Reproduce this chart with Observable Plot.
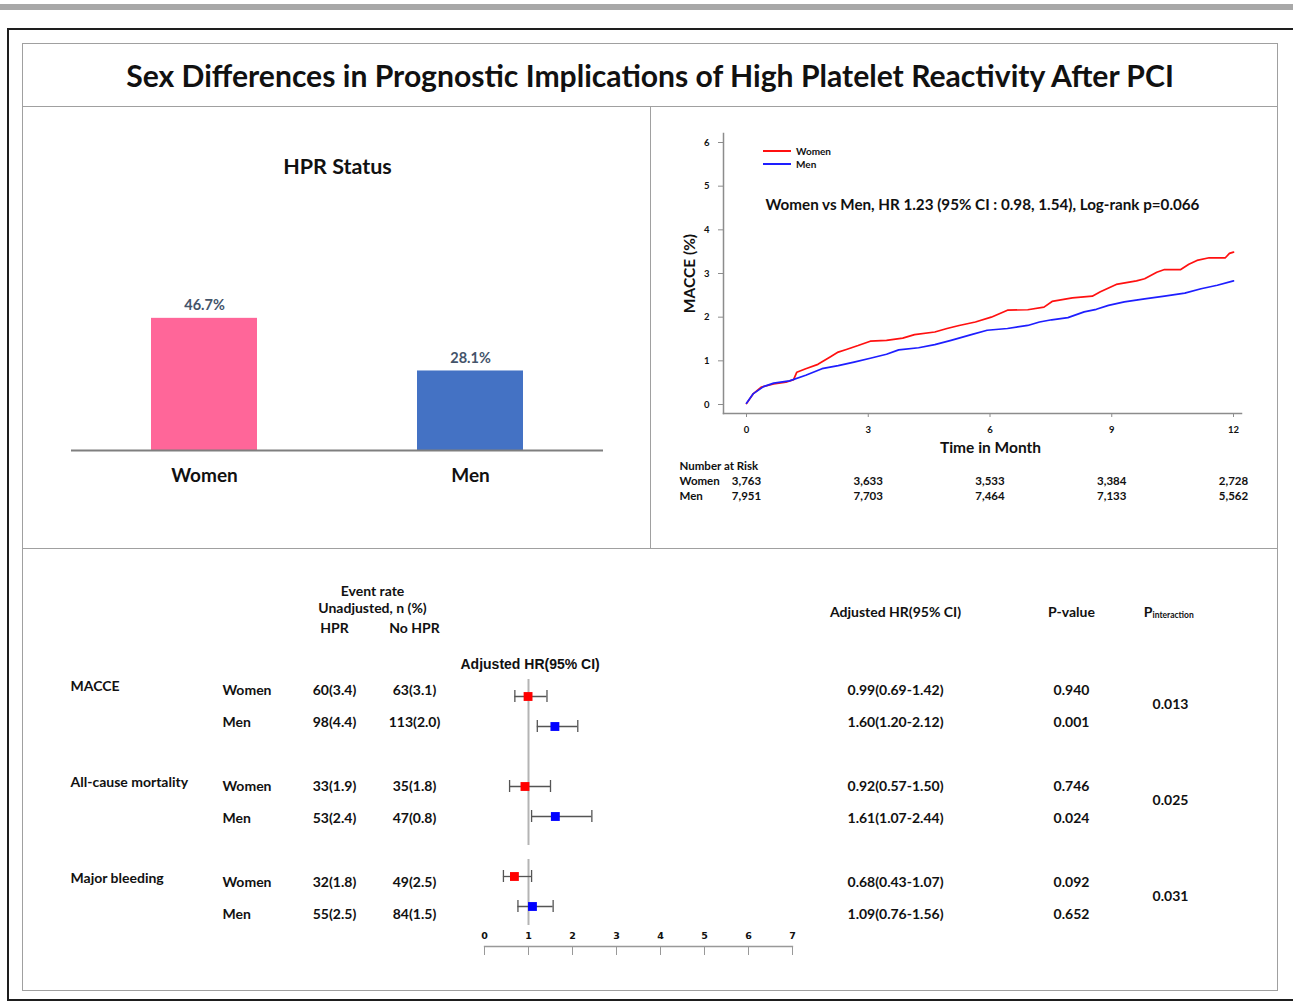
<!DOCTYPE html>
<html>
<head>
<meta charset="utf-8">
<script src="https://cdn.jsdelivr.net/npm/d3@7"></script>
<script src="https://cdn.jsdelivr.net/npm/@observablehq/plot@0.6"></script>
<style>
  html,body{margin:0;padding:0;background:#fff;}
  #root{position:relative;width:1293px;height:1002px;overflow:hidden;font-family:Lato,"Open Sans",sans-serif;color:#111;}
  .abs{position:absolute;box-sizing:border-box;}
  svg{overflow:visible;}
</style>
</head>
<body>
<div id="root"></div>
<script>
// ---------------- DATA ----------------
const chartTitle = "Sex Differences in Prognostic Implications of High Platelet Reactivity After PCI";

// Panel 1: HPR status
const hprTitle = "HPR Status";
const hprCategories = ["Women", "Men"];
const hprPercent = [46.7, 28.1];
const hprColors = ["#FF6699", "#4472C4"];

// Panel 2: Cumulative MACCE curves
const kmSeries = ["Women", "Men"];
const kmColors = ["#FF1010", "#1E1EFF"];
const kmWomenTime  = [0, 0.17, 0.37, 0.67, 0.97, 1.16, 1.24, 1.46, 1.76, 2.06, 2.26, 2.46, 2.75, 3.05, 3.45, 3.85, 4.14, 4.64, 4.94, 5.24, 5.64, 6.03, 6.43, 6.93, 7.33, 7.53, 8.03, 8.52, 8.72, 9.11, 9.61, 9.81, 10.11, 10.3, 10.7, 10.9, 11.1, 11.4, 11.8, 11.9, 12];
const kmWomenMacce = [0.02, 0.25, 0.40, 0.47, 0.51, 0.57, 0.74, 0.82, 0.92, 1.09, 1.20, 1.26, 1.35, 1.45, 1.47, 1.52, 1.60, 1.66, 1.74, 1.81, 1.89, 2.00, 2.16, 2.17, 2.23, 2.36, 2.44, 2.48, 2.58, 2.75, 2.83, 2.88, 3.03, 3.09, 3.09, 3.21, 3.30, 3.36, 3.36, 3.46, 3.49];
const kmMenTime  = [0, 0.17, 0.42, 0.67, 1.06, 1.46, 1.86, 2.26, 2.65, 3.05, 3.45, 3.75, 4.24, 4.64, 5.04, 5.54, 5.93, 6.43, 6.93, 7.22, 7.52, 7.92, 8.32, 8.62, 8.92, 9.31, 9.81, 10.3, 10.8, 11.2, 11.6, 12];
const kmMenMacce = [0.03, 0.25, 0.41, 0.49, 0.54, 0.67, 0.82, 0.89, 0.97, 1.06, 1.15, 1.25, 1.30, 1.37, 1.47, 1.60, 1.70, 1.74, 1.81, 1.89, 1.94, 1.99, 2.12, 2.18, 2.27, 2.35, 2.42, 2.48, 2.55, 2.65, 2.73, 2.83];
const kmYTicks = [0, 1, 2, 3, 4, 5, 6];
const kmYLabel = "MACCE (%)";
const kmXLabel = "Time in Month";
const kmAnnotation = "Women vs Men, HR 1.23 (95% CI : 0.98, 1.54), Log-rank p=0.066";
const riskTitle = "Number at Risk";
const riskTimes = [0, 3, 6, 9, 12];
const riskWomen = ["3,763", "3,633", "3,533", "3,384", "2,728"];
const riskMen   = ["7,951", "7,703", "7,464", "7,133", "5,562"];

// Panel 3: Forest table
const outcomes = ["MACCE", "All-cause mortality", "Major bleeding"];
const sexes = ["Women", "Men"];
const hprEvents   = ["60(3.4)", "98(4.4)", "33(1.9)", "53(2.4)", "32(1.8)", "55(2.5)"];
const noHprEvents = ["63(3.1)", "113(2.0)", "35(1.8)", "47(0.8)", "49(2.5)", "84(1.5)"];
const hrEst  = [0.99, 1.60, 0.92, 1.61, 0.68, 1.09];
const hrLow  = [0.69, 1.20, 0.57, 1.07, 0.43, 0.76];
const hrHigh = [1.42, 2.12, 1.50, 2.44, 1.07, 1.56];
const pValues = ["0.940", "0.001", "0.746", "0.024", "0.092", "0.652"];
const pInteraction = ["0.013", "0.025", "0.031"];
const forestTicks = [0, 1, 2, 3, 4, 5, 6, 7];
const nullHR = 1;
const refLineGroups = [["MACCE", "All-cause mortality"], ["Major bleeding"]];
const forestColors = ["#FF0000", "#0000FF"];
const hdrEventRate = "Event rate";
const hdrUnadj = "Unadjusted, n (%)";
const hdrHPR = "HPR";
const hdrNoHPR = "No HPR";
const hdrHR = "Adjusted HR(95% CI)";
const hdrP = "P-value";
const hdrPint = ["P", "interaction"];

// ---------------- LAYOUT HELPERS ----------------
const FONT = 'Lato, "Open Sans", sans-serif';
const ARIAL = '"Liberation Sans", Arial, sans-serif';
const root = document.getElementById("root");
function box(l, t, w, h, css) {
  const d = document.createElement("div");
  d.className = "abs";
  Object.assign(d.style, {left: l + "px", top: t + "px", width: w + "px", height: h + "px"}, css || {});
  root.appendChild(d);
  return d;
}
function place(el, l, t) {
  el.style.position = "absolute";
  el.style.left = l + "px";
  el.style.top = t + "px";
  root.appendChild(el);
}
const baseStyle = {fontFamily: FONT, background: "transparent", overflow: "visible", color: "#111"};

// frames
box(0, 4, 1293, 6, {background: "#a8a8a8"});
box(7, 28, 1300, 973, {border: "2px solid #1e1e1e"});
box(22, 43, 1256, 948, {border: "1px solid #a0a0a0"});
box(22, 106, 1256, 1, {background: "#a0a0a0"});
box(650, 106, 1, 442, {background: "#a0a0a0"});
box(22, 548, 1256, 1, {background: "#a0a0a0"});

// title
const tbox = box(22, 44, 1256, 62, {display: "flex", alignItems: "center", justifyContent: "center"});
const ts = document.createElement("span");
ts.textContent = chartTitle;
ts.style.font = `bold 27px ${FONT}`;
ts.style.whiteSpace = "nowrap";
tbox.appendChild(ts);
{
  const w = ts.getBoundingClientRect().width;
  if (w > 0) ts.style.fontSize = (27 * 1048 / w).toFixed(2) + "px";
}

// ---------------- PANEL 1: BAR ----------------
const hprData = hprCategories.map((c, i) => ({sex: c, pct: hprPercent[i]}));
const bar = Plot.plot({
  width: 628, height: 442,
  marginLeft: 49, marginRight: 47, marginTop: 61, marginBottom: 98,
  style: baseStyle,
  x: {domain: hprCategories, paddingInner: 0.6015, paddingOuter: 0.3, axis: null},
  y: {domain: [0, 100], axis: null},
  color: {domain: hprCategories, range: hprColors},
  marks: [
    Plot.barY(hprData, {x: "sex", y: "pct", fill: "sex"}),
    Plot.ruleY([0], {stroke: "#7f7f7f", strokeWidth: 2}),
    Plot.text(hprData, {x: "sex", y: "pct", text: d => d.pct.toFixed(1) + "%", dy: -13, fill: "#44546A", fontSize: 14.5, fontWeight: "bold"}),
    Plot.axisX({tickSize: 0, tickPadding: 18, fontSize: 19, fontWeight: "bold", label: null, fill: "#111"}),
    Plot.text([hprTitle], {frameAnchor: "top", lineAnchor: "middle", fontSize: 21.5, fontWeight: "bold", fill: "#111"})
  ]
});
place(bar, 22, 106);

// ---------------- PANEL 2: KM ----------------
const kmRows = [
  ...kmWomenTime.map((t, i) => ({sex: kmSeries[0], t, v: kmWomenMacce[i]})),
  ...kmMenTime.map((t, i) => ({sex: kmSeries[1], t, v: kmMenMacce[i]}))
];
const riskRows = riskTimes.map((t, i) => ({t, w: riskWomen[i], m: riskMen[i]}));
const K = {fontSize: 11.5, fontWeight: "bold", fill: "#111"};
const km = Plot.plot({
  width: 627, height: 442,
  marginLeft: 73, marginRight: 36, marginTop: 27, marginBottom: 135,
  style: baseStyle,
  x: {domain: [0, 12], range: [96, 583]},
  y: {domain: [0, 6], range: [298, 36]},
  color: {domain: kmSeries, range: kmColors},
  marks: [
    Plot.frame({anchor: "left", stroke: "#8c8c8c", strokeWidth: 1.5}),
    Plot.frame({anchor: "bottom", stroke: "#8c8c8c", strokeWidth: 1.5}),
    Plot.axisY({ticks: kmYTicks, tickFormat: "d", tickSize: 5, tickPadding: 9, fontSize: 9.5, fontWeight: "bold", label: null, stroke: "#8c8c8c", fill: "#111"}),
    Plot.axisX({ticks: riskTimes, tickFormat: "d", tickSize: 4, tickPadding: 9, fontSize: 9.5, fontWeight: "bold", label: null, stroke: "#8c8c8c", fill: "#111"}),
    Plot.line(kmRows, {x: "t", y: "v", z: "sex", stroke: "sex", strokeWidth: 1.7}),
    Plot.text([kmYLabel], {frameAnchor: "left", textAnchor: "middle", rotate: -90, dx: -33, fontSize: 15.5, fontWeight: "bold", fill: "#111"}),
    Plot.text([kmXLabel], {frameAnchor: "bottom", lineAnchor: "middle", dy: 35, dx: 8, fontSize: 15.5, fontWeight: "bold", fill: "#111"}),
    Plot.text([kmAnnotation], {frameAnchor: "top", lineAnchor: "middle", dy: 72, fontSize: 15.2, fontWeight: "bold", fill: "#111"}),
    Plot.text([riskTitle], {frameAnchor: "bottom-left", lineAnchor: "middle", dx: -44, dy: 53, textAnchor: "start", ...K}),
    Plot.text([kmSeries[0]], {frameAnchor: "bottom-left", lineAnchor: "middle", dx: -44, dy: 68, textAnchor: "start", ...K}),
    Plot.text([kmSeries[1]], {frameAnchor: "bottom-left", lineAnchor: "middle", dx: -44, dy: 83, textAnchor: "start", ...K}),
    Plot.text(riskRows, {x: "t", frameAnchor: "bottom", lineAnchor: "middle", dy: 68, text: "w", ...K}),
    Plot.text(riskRows, {x: "t", frameAnchor: "bottom", lineAnchor: "middle", dy: 83, text: "m", ...K})
  ]
});
place(km, 650, 106);

// KM legend
kmSeries.forEach((s, i) => {
  const row = box(763, 145 + i * 12.5, 120, 12, {display: "flex", alignItems: "center"});
  const ln = document.createElement("span");
  Object.assign(ln.style, {display: "inline-block", width: "28px", height: "2px", background: kmColors[i], marginRight: "5px"});
  const tx = document.createElement("span");
  tx.textContent = s;
  Object.assign(tx.style, {font: `bold 10px ${FONT}`, color: "#111"});
  row.appendChild(ln); row.appendChild(tx);
});

// ---------------- PANEL 3: TABLE + FOREST ----------------
const rows = [];
outcomes.forEach((o, g) => sexes.forEach((s, m) => {
  const i = g * 2 + m;
  rows.push({
    key: o + "|" + s, outcome: o, sex: s, first: m === 0,
    hpr: hprEvents[i], nohpr: noHprEvents[i],
    est: hrEst[i], lo: hrLow[i], hi: hrHigh[i],
    hr: `${hrEst[i].toFixed(2)}(${hrLow[i].toFixed(2)}-${hrHigh[i].toFixed(2)})`,
    p: pValues[i], pint: pInteraction[g]
  });
}));
const firstRows = rows.filter(d => d.first);
const tableDomain = outcomes.flatMap((o, g) => (g ? ["gap" + g] : []).concat(sexes.map(s => o + "|" + s)));
const T = {fontSize: 14, fontWeight: "bold", fill: "#111"};
const H = {frameAnchor: "top-left", lineAnchor: "middle", textAnchor: "middle", ...T};
const C = {y: "key", frameAnchor: "left", textAnchor: "middle", ...T};
const table = Plot.plot({
  width: 1255, height: 442,
  marginLeft: 0, marginRight: 0, marginTop: 0, marginBottom: 0,
  style: baseStyle,
  y: {type: "point", domain: tableDomain, range: [140, 367.5], padding: 0, axis: null},
  marks: [
    Plot.text([hdrEventRate], {...H, dx: 350, dy: 43}),
    Plot.text([hdrUnadj], {...H, dx: 350, dy: 60}),
    Plot.text([hdrHPR], {...H, dx: 312, dy: 80}),
    Plot.text([hdrNoHPR], {...H, dx: 392, dy: 80}),
    Plot.text([hdrHR], {...H, dx: 873, dy: 64}),
    Plot.text([hdrP], {...H, dx: 1049, dy: 64}),
    Plot.text([hdrPint[0]], {...H, dx: 1130, dy: 64, textAnchor: "end"}),
    Plot.text([hdrPint[1]], {...H, dx: 1130, dy: 67, textAnchor: "start", fontSize: 8.5}),
    Plot.text(firstRows, {...C, dx: 48, dy: -4, text: "outcome", textAnchor: "start"}),
    Plot.text(rows, {...C, dx: 200, text: "sex", textAnchor: "start"}),
    Plot.text(rows, {...C, dx: 312, text: "hpr"}),
    Plot.text(rows, {...C, dx: 392, text: "nohpr"}),
    Plot.text(rows, {...C, dx: 873, text: "hr"}),
    Plot.text(rows, {...C, dx: 1049, text: "p"}),
    Plot.text(firstRows, {...C, dx: 1148, dy: 14, text: "pint"})
  ]
});
place(table, 22, 548);

// forest uses the same slot layout (with gaps between outcomes)
const refSegs = refLineGroups.map(g => ({x: nullHR, y1: g[0] + "|" + sexes[0], y2: g[g.length - 1] + "|" + sexes[sexes.length - 1]}));
const RL = {x: "x", y1: "y1", y2: "y2", insetTop: -17, stroke: "#b4b4b4", strokeWidth: 2};
const forest = Plot.plot({
  width: 400, height: 330,
  marginLeft: 44, marginRight: 48, marginTop: 40, marginBottom: 24,
  style: baseStyle,
  x: {domain: [0, 7], axis: null},
  y: {type: "point", domain: tableDomain, range: [56, 266], padding: 0, axis: null},
  color: {domain: sexes, range: forestColors},
  marks: [
    Plot.ruleX(refSegs.slice(0, 1), {...RL, insetBottom: -29}),
    Plot.ruleX(refSegs.slice(1), {...RL, insetBottom: -19}),
    Plot.ruleY(rows, {y: "key", x1: "lo", x2: "hi", stroke: "#555", strokeWidth: 1.3}),
    Plot.ruleX(rows, {x: "lo", y1: "key", y2: "key", insetTop: -6, insetBottom: -6, stroke: "#555", strokeWidth: 1.3}),
    Plot.ruleX(rows, {x: "hi", y1: "key", y2: "key", insetTop: -6, insetBottom: -6, stroke: "#555", strokeWidth: 1.3}),
    Plot.dot(rows, {x: "est", y: "key", symbol: "square", r: 5, fill: "sex", stroke: null}),
    Plot.frame({anchor: "bottom", stroke: "#999", strokeWidth: 1.3}),
    Plot.axisX({ticks: forestTicks, tickSize: 9, tickFormat: () => "", stroke: "#999", label: null}),
    Plot.text(forestTicks, {x: d => d, frameAnchor: "bottom", lineAnchor: "middle", dy: -11, text: d => String(d), fontFamily: '"DejaVu Sans", sans-serif', fontSize: 9.5, fontWeight: "bold", fill: "#111"}),
    Plot.text([hdrHR], {frameAnchor: "top-left", lineAnchor: "middle", dx: -24, dy: -16, textAnchor: "start", fontFamily: ARIAL, fontSize: 14, fontWeight: "bold", fill: "#111"})
  ]
});
place(forest, 440, 640);
</script>
</body>
</html>
